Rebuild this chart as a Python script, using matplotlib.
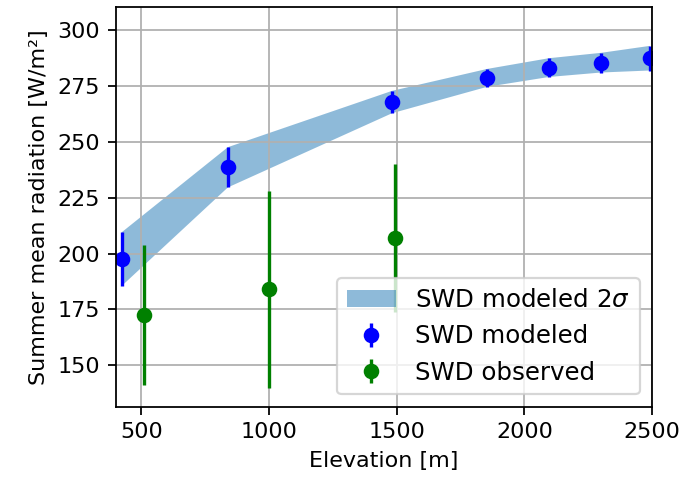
import matplotlib
matplotlib.use("Agg")
import matplotlib.pyplot as plt

# modeled shortwave down radiation (mean and 2 sigma)
elev_mod = [424, 839, 1482, 1854, 2096, 2300, 2490]
swd_mod = [197.6, 238.6, 267.8, 278.6, 283.2, 285.4, 287.4]
swd_mod_2sig = [12, 9, 5, 4, 4.2, 4.4, 5.5]

# station observations
elev_obs = [509, 1000, 1495]
swd_obs = [172.5, 184, 207]
swd_obs_err = [31.5, 44, 33]

lower = [m - s for m, s in zip(swd_mod, swd_mod_2sig)]
upper = [m + s for m, s in zip(swd_mod, swd_mod_2sig)]

fig, ax = plt.subplots(figsize=(685 / 160, 484 / 160), dpi=160)
ax.fill_between(elev_mod, lower, upper, alpha=0.5, label=r"SWD modeled 2$\sigma$")
ax.errorbar(elev_mod, swd_mod, yerr=swd_mod_2sig, fmt="o", color="blue", label="SWD modeled")
ax.errorbar(elev_obs, swd_obs, yerr=swd_obs_err, fmt="o", color="green", label="SWD observed")

ax.set_xlim(400, 2500)
ax.set_ylim(131.5, 310.3)
ax.set_xlabel("Elevation [m]")
ax.set_ylabel("Summer mean radiation [W/m²]")
ax.grid(True)
ax.legend(loc="lower right", fontsize=11)

fig.subplots_adjust(left=0.169, right=0.952, top=0.9855, bottom=0.1597)
fig.savefig("out.png", dpi=160)
